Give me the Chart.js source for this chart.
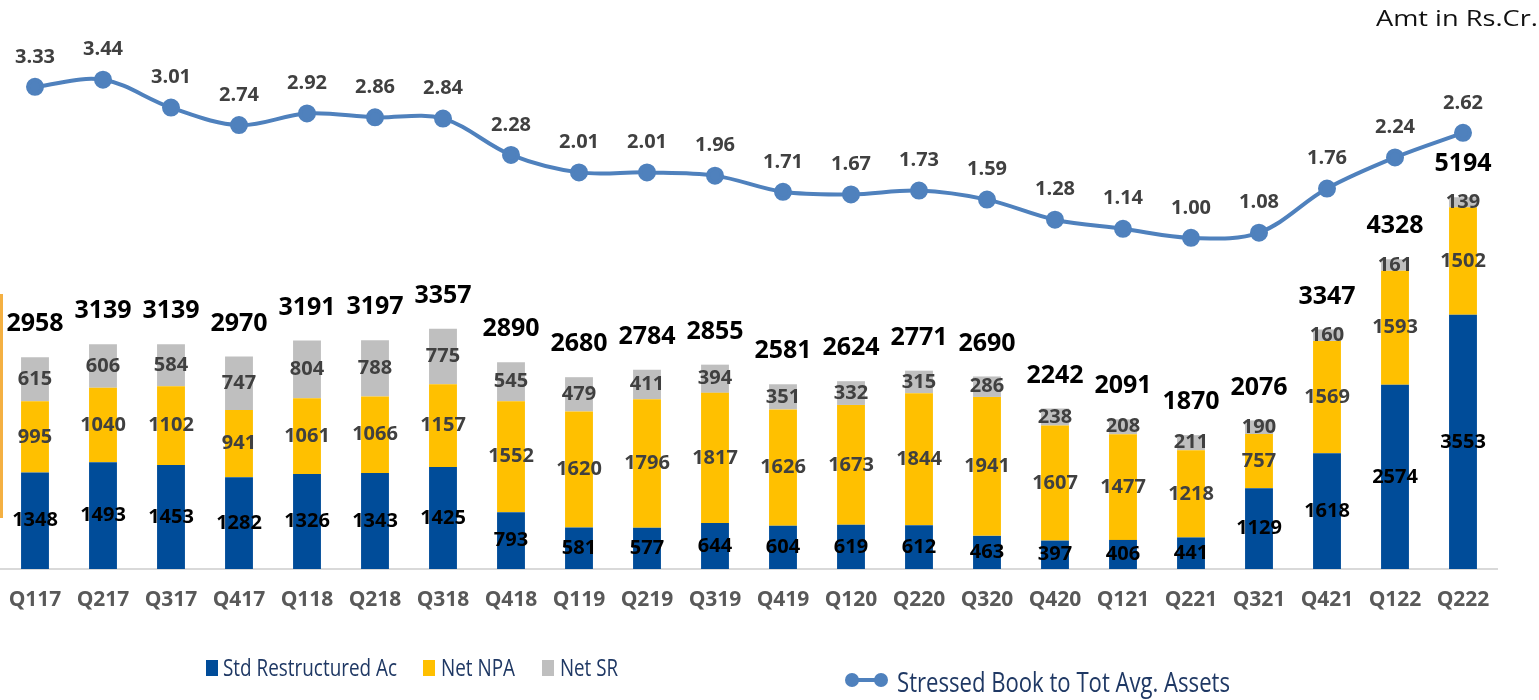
<!DOCTYPE html>
<html>
<head>
<meta charset="utf-8">
<script src="https://cdn.jsdelivr.net/npm/chart.js@4.4.1/dist/chart.umd.min.js"></script>
<style>
body { margin: 0; background: #fff; }
#wrap { position: relative; width: 1539px; height: 700px; overflow: hidden; }
#chart-stress { position: absolute; left: 0; top: 0; }
.edge { position: absolute; left: 0; top: 294px; width: 3px; height: 224px; background: #F4B042; }
.txt { position: absolute; font-family: "Open Sans"; white-space: nowrap; transform-origin: 0 0; line-height: 1; }
.sq { position: absolute; width: 12px; height: 16px; }
.dot { position: absolute; width: 14px; height: 14px; border-radius: 7px; background: #4F81BD; }
</style>
</head>
<body>
<div id="wrap">
  <canvas id="chart-stress" width="1539" height="700"></canvas>
  <div class="edge"></div>
  <span class="txt" data-w="162" style="left:1376px;top:6px;font-size:22px;color:#111">Amt in Rs.Cr.</span>

  <span class="sq" style="left:206px;top:660px;background:#004C99"></span>
  <span class="txt" data-w="174" style="left:223px;top:655px;font-size:24px;color:#1F3864">Std Restructured Ac</span>
  <span class="sq" style="left:423px;top:660px;background:#FFC000"></span>
  <span class="txt" data-w="74" style="left:441px;top:655px;font-size:24px;color:#1F3864">Net NPA</span>
  <span class="sq" style="left:542px;top:660px;background:#BFBFBF"></span>
  <span class="txt" data-w="58" style="left:560px;top:655px;font-size:24px;color:#1F3864">Net SR</span>

  <span style="position:absolute;left:848px;top:678px;width:36px;height:4px;background:#4F81BD"></span>
  <span class="dot" style="left:845px;top:673px"></span>
  <span class="dot" style="left:874px;top:673px"></span>
  <span class="txt" data-w="333" style="left:897px;top:667px;font-size:28px;color:#1F3864">Stressed Book to Tot Avg. Assets</span>
</div>
<script>
const quarters = ['Q117','Q217','Q317','Q417','Q118','Q218','Q318','Q418','Q119','Q219','Q319',
                  'Q419','Q120','Q220','Q320','Q420','Q121','Q221','Q321','Q421','Q122','Q222'];
const stdRestructured = [1348,1493,1453,1282,1326,1343,1425,793,581,577,644,604,619,612,463,397,406,441,1129,1618,2574,3553];
const netNPA = [995,1040,1102,941,1061,1066,1157,1552,1620,1796,1817,1626,1673,1844,1941,1607,1477,1218,757,1569,1593,1502];
const netSR = [615,606,584,747,804,788,775,545,479,411,394,351,332,315,286,238,208,211,190,160,161,139];
const totals = [2958,3139,3139,2970,3191,3197,3357,2890,2680,2784,2855,2581,2624,2771,2690,2242,2091,1870,2076,3347,4328,5194];
const stressedRatio = [3.33,3.44,3.01,2.74,2.92,2.86,2.84,2.28,2.01,2.01,1.96,1.71,1.67,1.73,1.59,1.28,1.14,1.00,1.08,1.76,2.24,2.62];

Chart.defaults.font.family = '"Open Sans"';

// squeeze html texts to the widths seen in the picture
var texts = document.querySelectorAll('.txt');
for (i = 0; i < texts.length; ++i) {
    const w = texts[i].getBoundingClientRect().width;
    texts[i].style.transform = 'scaleX(' + (texts[i].dataset.w / w) + ')';
}

// value labels drawn after the datasets (no datalabels plugin offline)
const valueLabels = {
    id: 'valueLabels',
    afterDatasetsDraw(chart) {
        const ctx = chart.ctx;
        ctx.save();
        ctx.textAlign = 'center';
        ctx.textBaseline = 'middle';
        for (let d = 1; d <= 3; ++d) {
            const meta = chart.getDatasetMeta(d);
            ctx.font = 'bold 20px "Open Sans"';
            ctx.fillStyle = d === 1 ? '#000000' : '#404040';
            meta.data.forEach(function (bar, i) {
                ctx.fillText(chart.data.datasets[d].data[i], bar.x, (bar.y + bar.base) / 2);
            });
        }
        const topMeta = chart.getDatasetMeta(3);
        ctx.font = 'bold 25px "Open Sans"';
        ctx.fillStyle = '#000000';
        topMeta.data.forEach(function (bar, i) {
            ctx.fillText(totals[i], bar.x, bar.y - 33);
        });
        const lineMeta = chart.getDatasetMeta(0);
        ctx.font = 'bold 20px "Open Sans"';
        ctx.fillStyle = '#404040';
        lineMeta.data.forEach(function (pt, i) {
            ctx.fillText(stressedRatio[i].toFixed(2), pt.x, pt.y - 30);
        });
        ctx.restore();
    }
};

const myChart = new Chart(document.getElementById('chart-stress').getContext('2d'), {
    type: 'bar',
    data: {
        labels: quarters,
        datasets: [
            {
                type: 'line',
                label: 'Stressed Book to Tot Avg. Assets',
                data: stressedRatio,
                yAxisID: 'yLine',
                borderColor: '#4F81BD',
                backgroundColor: '#4F81BD',
                borderWidth: 4,
                pointRadius: 7,
                pointHoverRadius: 7,
                tension: 0.35,
                order: 0
            },
            { label: 'Std Restructured Ac', data: stdRestructured, backgroundColor: '#004C99', stack: 's', order: 1 },
            { label: 'Net NPA', data: netNPA, backgroundColor: '#FFC000', stack: 's', order: 1 },
            { label: 'Net SR', data: netSR, backgroundColor: '#BFBFBF', stack: 's', order: 1 }
        ]
    },
    options: {
        responsive: false,
        animation: false,
        layout: { autoPadding: false, padding: { left: 1, right: 42, top: 0, bottom: 0 } },
        datasets: { bar: { barPercentage: 0.41, categoryPercentage: 1 } },
        plugins: { legend: { display: false }, tooltip: { enabled: false } },
        scales: {
            x: {
                stacked: true,
                grid: { display: false, drawTicks: true, tickLength: 18 },
                border: { display: true, color: '#D9D9D9', width: 2 },
                ticks: { color: '#595959', font: { size: 21, weight: 'bold' }, padding: 0, maxRotation: 0, autoSkip: false },
                afterFit: function (scale) { scale.height = 131; }
            },
            y: { display: false, stacked: true, min: 0, max: 7950 },
            yLine: { display: false, min: -4.11, max: 4.67 }
        }
    },
    plugins: [valueLabels]
});
</script>
</body>
</html>
